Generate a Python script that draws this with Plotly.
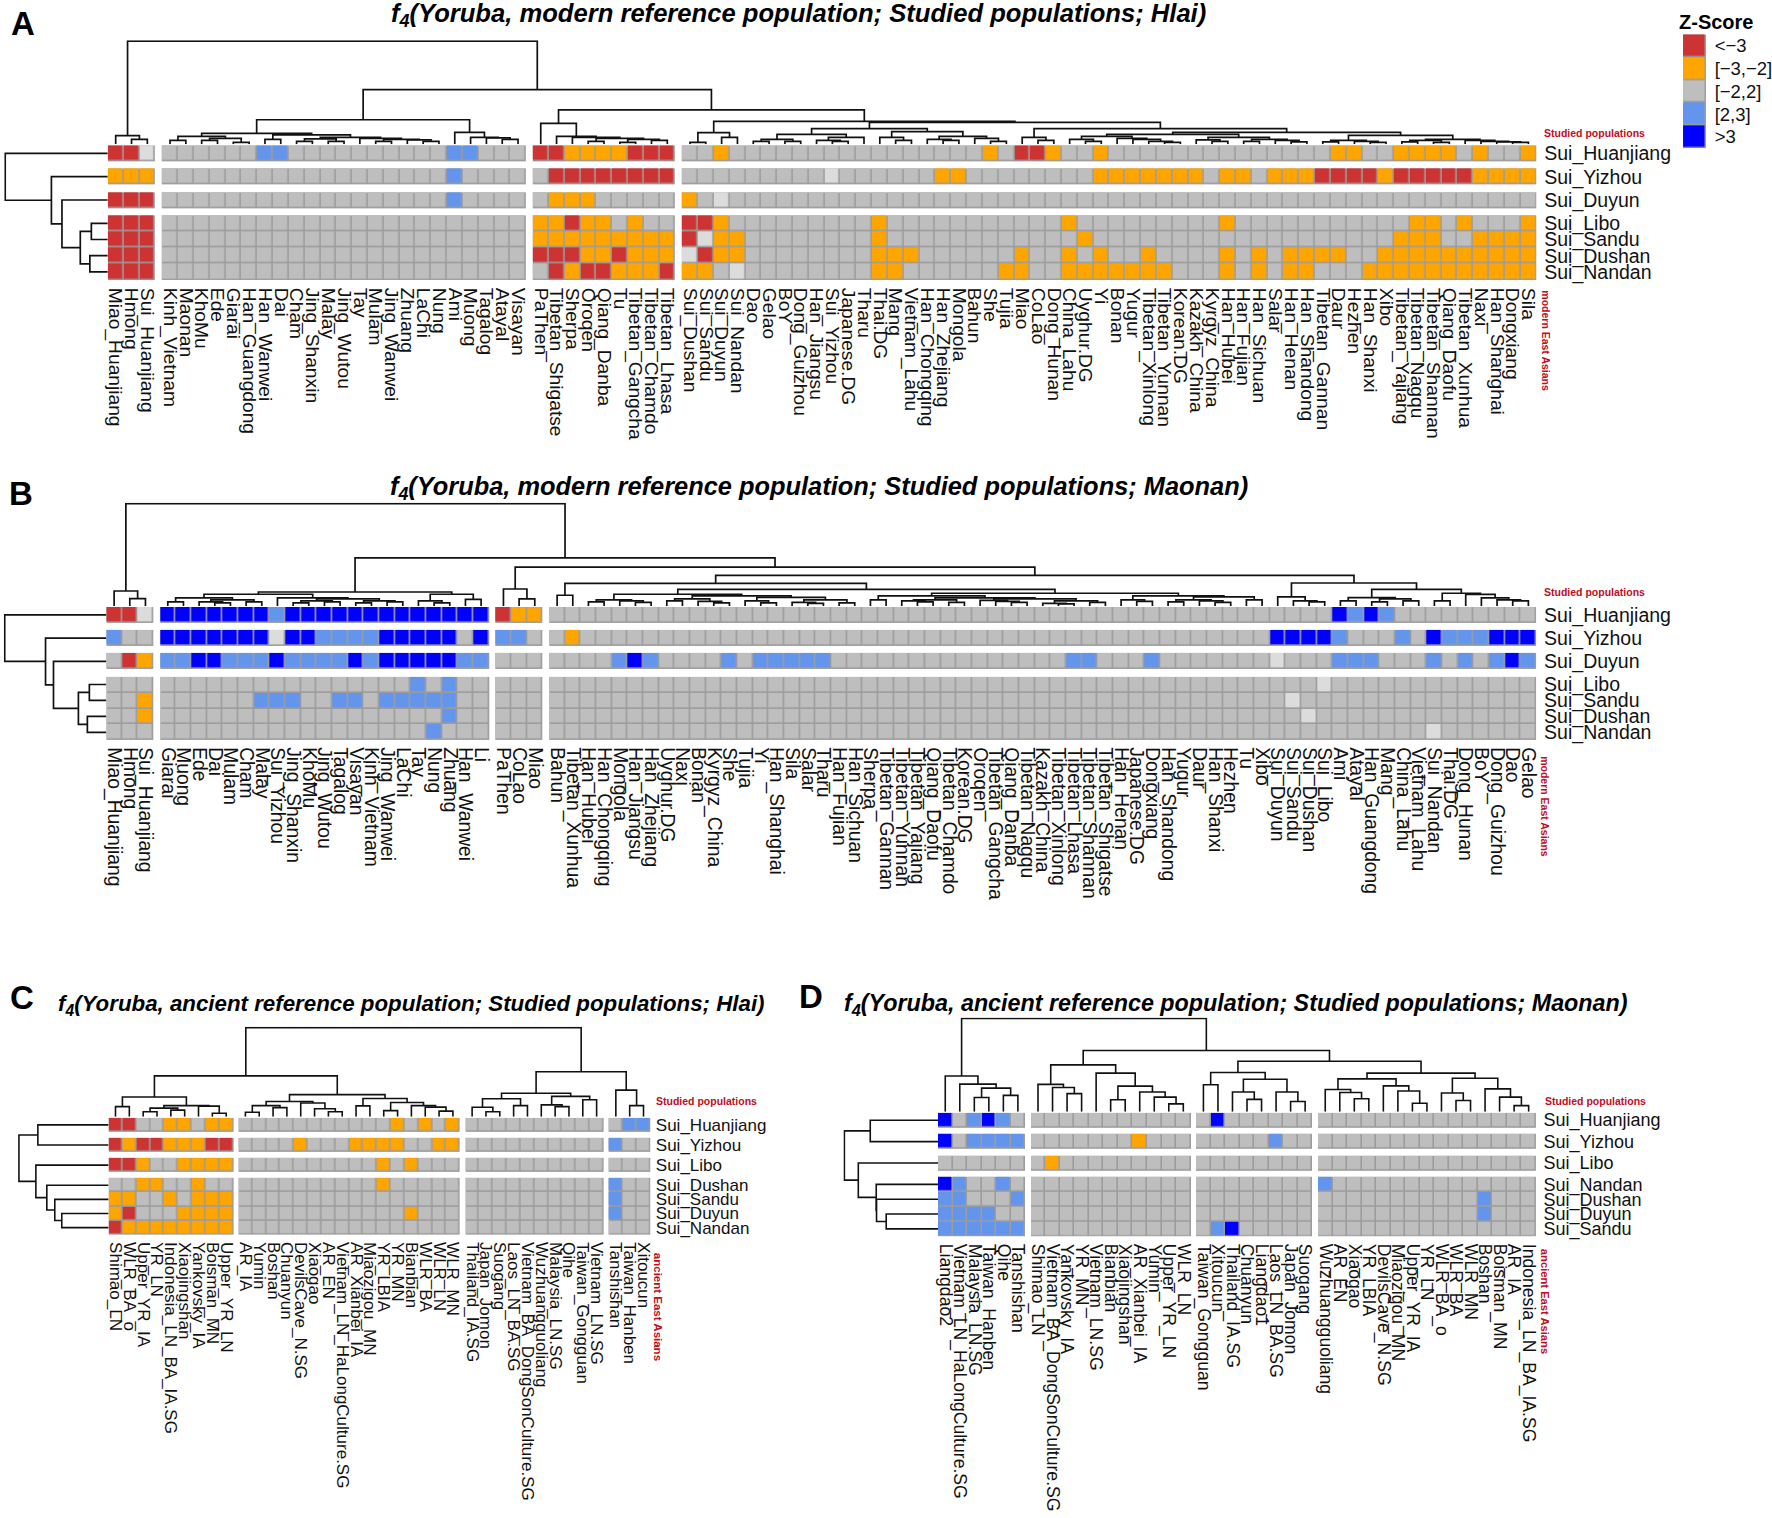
import plotly.graph_objects as go

W, H = 1772, 1518
FONT = "Liberation Sans"
RED_TXT = "#C00D1E"
BORDER = "#9C9C9C"
CODES = {"r": 0, "o": 1, "g": 2, "b": 3, "B": 4, "w": 5}
COLORS = ["#CD3333", "#FFA500", "#BEBEBE", "#6495ED", "#0000FF", "#DCDCDC"]
_ = None

# ---------- legend ----------
legend_labels = ["<−3", "[−3,−2]", "[−2,2]", "[2,3]", ">3"]
legend_codes = ["r", "o", "g", "b", "B"]

# ---------- panel A ----------
A_rows = ["Sui_Huanjiang", "Sui_Yizhou", "Sui_Duyun", "Sui_Libo", "Sui_Sandu", "Sui_Dushan", "Sui_Nandan"]
A_col1 = ["Miao_Huanjiang", "Hmong", "Sui_Huanjiang"]
A_col2 = ["Kinh_Vietnam", "Maonan", "KhoMu", "Ede", "Giarai", "Han_Guangdong", "Han_Wanwei", "Dai", "Cham",
          "Jing_Shanxin", "Malay", "Jing_Wutou", "Tay", "Mulam", "Jing_Wanwei", "Zhuang", "LaChi", "Nung", "Ami",
          "Muong", "Tagalog", "Atayal", "Visayan"]
A_col3 = ["PaThen", "Tibetan_Shigatse", "Sherpa", "Oroqen", "Qiang_Danba", "Tu", "Tibetan_Gangcha",
          "Tibetan_Chamdo", "Tibetan_Lhasa"]
A_col4 = ["Sui_Dushan", "Sui_Sandu", "Sui_Duyun", "Sui_Nandan", "Dao", "Gelao", "BoY", "Dong_Guizhou", "Han_Jiangsu",
          "Sui_Yizhou", "Japanese.DG", "Tharu", "Thai.DG", "Mang", "Vietnam_Lahu", "Han_Chongqing", "Han_Zhejiang",
          "Mongola", "Bahun", "She", "Tujia", "Miao", "CoLao", "Dong_Hunan", "China_Lahu", "Uyghur.DG", "Yi", "Bonan",
          "Yugur", "Tibetan_Xinlong", "Tibetan_Yunnan", "Korean.DG", "Kazakh_China", "Kyrgyz_China", "Han_Hubei",
          "Han_Fujian", "Han_Sichuan", "Salar", "Han_Henan", "Han_Shandong", "Tibetan_Gannan", "Daur", "Hezhen",
          "Han_Shanxi", "Xibo", "Tibetan_Yajiang", "Tibetan_Nagqu", "Tibetan_Shannan", "Qiang_Daofu",
          "Tibetan_Xunhua", "Naxi", "Han_Shanghai", "Dongxiang", "Sila"]
A_z1 = ["rrw", "ooo", "rrr", "rrr", "rrr", "rrr", "rrr"]
A_z2 = ["ggggggbbggggggggggbbggg", "ggggggggggggggggggbgggg", "ggggggggggggggggggbgggg",
        "g" * 23, "g" * 23, "g" * 23, "g" * 23]
A_z3 = ["rroooorrr", "grrrrrrrr", "goooggggg", "ooroogogg", "ooooooooo", "rrroorooo", "grorrooor"]
A_z4 = ["ggoggggggg" "gggggggggo" "grroggoggg" "gggggggggg" "googgoooog" "oggo",
        "gggggggggw" "ggggggoogg" "ggggggoooo" "ooogoogooo" "rrrrorrrrr" "oooo",
        "ogwggggggg" "gggggggggg" "gggggggggg" "gggggggggg" "gggggggggg" "gggg",
        "rroggggggg" "ggoggggggg" "ggggoggggg" "ggggoggggg" "ggggggoogo" "gggo",
        "rwoogggggg" "ggoggggggg" "gggggogggg" "gggggggggg" "gggggooogg" "oooo",
        "wroogggggg" "ggoooggggg" "goggogoggo" "ggggogogoo" "ooggoooooo" "oooo",
        "oogwgggggg" "ggoogggggg" "ooggoooooo" "ogggogogoo" "gggooooooo" "oooo"]
A_tree_rows = (103, _, (56.6, _, (46, _, (27.6, (16.5, _, _), (18, _, _)))))
A_t1 = (8.7, _, (5, _, _))
A_t2 = (24.7, (11, (8, (4, _, _), (6, (4, _, _), (2, _, _))),
               (9.5, (5, _, _), (7, (5.5, (3, _, _), (3, _, _)), (6, _, (5, (3, _, _), (4.5, _, (3, _, _))))))),
        (12, _, (7, _, (6.5, _, (5, _, _)))))
A_t3 = (21, _, (8, _, (7, _, (6, (3, _, _), (5, (2, _, _), (4, _, _))))))
A_t4 = (23, (11.7, (2, _, _), (7, _, _)),
        (22, (15.7, (10, (5, (3, _, _), (3, _, _)), (7, (4, _, (3, _, _)), _)),
              (12.7, (7, _, (4, _, _)), (8, (5, _, (4, _, _)), (6, _, (3, _, _))))),
         (15.7, (7, _, (4, _, _)),
          (12, (10, (8, (5, _, (3, _, _)), (6, _, (5, _, (3, _, (2, _, _))))),
                (7, (4.5, _, (3, _, _)), (5, (3, _, _), (4, _, (2.5, _, _))))),
           (9, (4, (2.5, _, _), (3, _, (2, _, _))),
            (5, (4, (2.5, _, _), (2, _, _)), (4, _, (3, _, (2.5, _, (2, _, _))))))))))
A_tree_cols = (103.7, A_t1, (55, A_t2, (34.7, A_t3, A_t4)))

# ---------- panel B ----------
B_rows = ["Sui_Huanjiang", "Sui_Yizhou", "Sui_Duyun", "Sui_Libo", "Sui_Sandu", "Sui_Dushan", "Sui_Nandan"]
B_col1 = ["Miao_Huanjiang", "Hmong", "Sui_Huanjiang"]
B_col2 = ["Giarai", "Muong", "Ede", "Dai", "Mulam", "Cham", "Malay", "Sui_Yizhou", "Jing_Shanxin", "KhoMu",
          "Jing_Wutou", "Tagalog", "Visayan", "Kinh_Vietnam", "Jing_Wanwei", "LaChi", "Tay", "Nung", "Zhuang",
          "Han_Wanwei", "Li"]
B_col3 = ["PaThen", "CoLao", "Miao"]
B_col4 = ["Bahun", "Tibetan_Xunhua", "Han_Hubei", "Han_Chongqing", "Mongola", "Han_Jiangsu", "Han_Zhejiang",
          "Uyghur.DG", "Naxi", "Bonan", "Kyrgyz_China", "She", "Tujia", "Yi", "Han_Shanghai", "Sila", "Salar", "Tharu",
          "Han_Fujian", "Han_Sichuan", "Sherpa", "Tibetan_Gannan", "Tibetan_Yunnan", "Tibetan_Yajiang", "Qiang_Daofu",
          "Tibetan_Chamdo", "Korean.DG", "Oroqen", "Tibetan_Gangcha", "Qiang_Danba", "Tibetan_Nagqu", "Kazakh_China",
          "Tibetan_Xinlong", "Tibetan_Lhasa", "Tibetan_Shannan", "Tibetan_Shigatse", "Han_Henan", "Japanese.DG",
          "Dongxiang", "Han_Shandong", "Yugur", "Daur", "Han_Shanxi", "Hezhen", "Tu", "Xibo", "Sui_Duyun", "Sui_Sandu",
          "Sui_Dushan", "Sui_Libo", "Ami", "Atayal", "Han_Guangdong", "Mang", "China_Lahu", "Vietnam_Lahu",
          "Sui_Nandan", "Thai.DG", "Dong_Hunan", "BoY", "Dong_Guizhou", "Dao", "Gelao"]
B_z1 = ["rrw", "bgg", "gro", "ggg", "ggo", "ggo", "ggg"]
B_z2 = ["BBBBBBBbBBBBBBBBBBBBB", "BBBBBBBwBBbbbbBBBBBgB", "bbBBbbbBbbbbBbBBBBBbb",
        "ggggggggggggggggbgbgg", "ggggggbbbggbbgbbbbbgg", "ggggggggggggggggggbgg", "gggggggggggggggggbggg"]
B_z3 = ["roo", "bbg", "ggg", "ggg", "ggg", "ggg", "ggg"]
B_z4 = ["g" * 50 + "BbBb" + "g" * 9,
        "go" + "g" * 44 + "BBBB" + "b" + "ggg" + "b" + "g" + "B" + "bbb" + "BBB",
        "gggg" + "bBb" + "gggg" + "b" + "g" + "bbbbb" + "g" * 15 + "bb" + "ggg" + "b" + "g" * 7 + "w" + "ggg" + "bbb"
        + "ggg" + "b" + "g" + "b" + "g" + "bBb",
        "g" * 49 + "w" + "g" * 13, "g" * 47 + "w" + "g" * 15, "g" * 48 + "w" + "g" * 14, "g" * 56 + "w" + "g" * 6]
B_tree_rows = (102, _, (61, _, (53, _, (28, (17, _, _), (19, _, _)))))
B_t1 = (15, _, (7.3, _, _))
B_t2 = (14, (11.7, (8, (4, _, _), (6, (4, _, (3, _, _)), (4, _, _))),
             (8, _, (7, (5, (3, _, _), (4, _, _)), (5, (3, _, _), (4, _, _))))),
        (11.7, (5, _, (3, _, _)), (6.5, _, _)))
B_t3 = (17, _, (7, _, _))
B_L1 = (11.7, (6, (4, _, _), (5, _, (3.5, _, _))),
        (10, (7, (5, _, _), (4.5, _, (3, _, _))),
         (8.5, (5, _, (3, _, _)), (6, (3.5, _, (2.5, _, _)), (3, _, _)))))
B_V = (8, (6, (5, _, (4, _, _)), (3.5, _, _)),
       (7, (5.5, _, (4.5, _, (3.5, _, _))), (5, (2.5, _, (2, _, _)), (3.5, _, _))))
B_L2 = (12.7, (10, (6, _, _), B_V),
        (10, (6, _, (4.5, _, _)), (9, (6, (4, _, _), (5, _, (3.5, _, _))), (6, _, _))))
B_t4 = (30.7, (22.7, (10.7, _, _), (16.7, B_L1, B_L2)),
        (23, (9, _, (5, _, (4, _, _))),
         (16.7, (8.3, (5, _, _), (7, (4, _, _), (5, _, _))),
          (12.7, (5, _, _), (11.5, _, (8, _, (6, _, (5, _, _))))))))
B_tree_cols = (102.7, B_t1, (48.3, B_t2, (39, B_t3, B_t4)))

# ---------- panel C ----------
C_rows = ["Sui_Huanjiang", "Sui_Yizhou", "Sui_Libo", "Sui_Dushan", "Sui_Sandu", "Sui_Duyun", "Sui_Nandan"]
C_col1 = ["Shimao_LN", "WLR_BA_o", "Upper_YR_IA", "YR_LN", "Indonesia_LN_BA_IA.SG", "Xiaojingshan", "Yankovsky_IA",
          "Boisman_MN", "Upper_YR_LN"]
C_col2 = ["AR_IA", "Yumin", "Boshan", "Chuanyun", "DevilsCave_N.SG", "Xiaogao", "AR_EN", "Vietnam_LN_HaLongCulture.SG",
          "AR_Xianbei_IA", "Miaozigou_MN", "YR_LBIA", "YR_MN", "Bianbian", "WLR_BA", "WLR_LN", "WLR_MN"]
C_col3 = ["Thailand_IA.SG", "Japan_Jomon", "Suogang", "Laos_LN_BA.SG", "Vietnam_BA_DongSonCulture.SG",
          "Wuzhuangguoliang", "Malaysia_LN.SG", "Qihe", "Taiwan_Gongguan", "Vietnam_LN.SG"]
C_col4 = ["Tanshishan", "Taiwan_Hanben", "Xitoucun"]
C_z1 = ["rrggoogoo", "rorrooorr", "rroggoooo", "ggooggogg", "ooggogooo", "orgggoooo", "roooooooo"]
C_z2 = ["gggggggggggogogo", "ggggoggg" + "oooogg" + "oo", "ggggggggggogoggg", "ggggggggggoggggg",
        "gggggggggggggggg", "ggggggggggggoggg", "gggggggggggggggg"]
C_z3 = ["g" * 10] * 7
C_z4 = ["gbb", "bgg", "ggg", "bgg", "bgg", "bgg", "ggg"]
C_tree_rows = (90, (71, _, _), (73, _, (62, _, (54, _, (47, _, _)))))
C_t1 = (19.9, (10.3, _, _), (11.3, (8.8, (5.1, _, _), (6.7, _, _)), (10.8, _, (3.6, _, _))))
C_t2 = (22.3, (15.4, (11.3, (4.6, _, _), (9.3, _, _)), (13.9, _, (8.2, _, (5.1, _, _)))),
        (18.5, (11, _, _), (14.4, (6.2, _, _), (11.3, _, (9.8, _, (5.7, _, _))))))
C_t3 = (23.7, (18.2, (9.6, _, (5.1, _, _)), (11.3, _, _)), (20.6, (12, _, (10.3, _, _)), (17.2, _, _)))
C_t4 = (26.8, _, (11.3, _, _))
C_tree_cols = (89.6, (41.2, C_t1, C_t2), (45.3, C_t3, C_t4))

# ---------- panel D ----------
D_rows = ["Sui_Huanjiang", "Sui_Yizhou", "Sui_Libo", "Sui_Nandan", "Sui_Dushan", "Sui_Duyun", "Sui_Sandu"]
D_col1 = ["Liangdao2", "Vietnam_LN_HaLongCulture.SG", "Malaysia_LN.SG", "Taiwan_Hanben", "Qihe", "Tanshishan"]
D_col2 = ["Shimao_LN", "Vietnam_BA_DongSonCulture.SG", "Yankovsky_IA", "YR_MN", "Vietnam_LN.SG", "Bianbian",
          "Xiaojingshan", "AR_Xianbei_IA", "Yumin", "Upper_YR_LN", "WLR_LN"]
D_col3 = ["Taiwan_Gongguan", "Xitoucun", "Thailand_IA.SG", "Chuanyun", "Liangdao1", "Laos_LN_BA.SG", "Japan_Jomon",
          "Suogang"]
D_col4 = ["Wuzhuangguoliang", "AR_EN", "Xiaogao", "YR_LBIA", "DevilsCave_N.SG", "Miaozigou_MN", "Upper_YR_IA", "YR_LN",
          "WLR_BA_o", "WLR_BA", "WLR_MN", "Boshan", "Boisman_MN", "AR_IA", "Indonesia_LN_BA_IA.SG"]
D_z1 = ["BgbBbg", "Bgbbbb", "gggggg", "Bbggbg", "bbgggb", "bbbbgg", "bbbbbb"]
D_z2 = ["ggggggggggg", "gggggggoggg", "goggggggggg", "ggggggggggg", "ggggggggggg", "ggggggggggg", "ggggggggggg"]
D_z3 = ["gBgggggg", "gggggbgg", "gggggggg", "gggggggg", "gggggggg", "gggggggg", "gbBggggg"]
D_z4 = ["g" * 15, "g" * 15, "g" * 15, "b" + "g" * 14, "g" * 11 + "bggg", "g" * 11 + "bggg", "g" * 15]
D_tree_rows = (94, (68, _, _), (80, _, (62, _, (61.7, _, (52, _, _)))))
D_t1 = (36, _, (27.8, _, (23.7, (14.4, _, _), (16.5, _, _))))
D_t2 = (47.1, (27.5, _, (24.4, _, (18.2, _, _))),
        (38.8, _, (25.8, (12, _, _), (19.9, _, (14.7, _, (7.9, _, _))))))
D_t3 = (39.4, (27.1, _, _), (32.6, (19.9, _, (12.4, _, _)), (19.9, _, (10.3, _, _))))
D_t4 = (38.8, (33, (22.3, _, (19.3, _, (13.1, _, _))), (26, _, (20.9, _, (8.5, _, _)))),
        (33.7, (18.8, _, (11.3, _, _)), (23, _, (14.7, _, (6.2, _, _)))))
D_tree_cols = (93.7, D_t1, (61.5, D_t2, (50.8, D_t3, D_t4)))

# ---------- layout geometry of each panel (page pixels) ----------
PANELS = [
    dict(cols=[A_col1, A_col2, A_col3, A_col4], z=[A_z1, A_z2, A_z3, A_z4], rows=A_rows, tc=A_tree_cols, tr=A_tree_rows,
         box=(105.2, 1539.4, 143, 278.3), gx=6.9, gy=7.1, fs=19.2, rfs=19.5, lw=1.7, xlen=3, ylen=3),
    dict(cols=[B_col1, B_col2, B_col3, B_col4], z=[B_z1, B_z2, B_z3, B_z4], rows=B_rows, tc=B_tree_cols, tr=B_tree_rows,
         box=(103.7, 1539.3, 606.7, 740.7), gx=6.7, gy=7.3, fs=19.3, rfs=19.5, lw=1.7, xlen=2, ylen=3),
    dict(cols=[C_col1, C_col2, C_col3, C_col4], z=[C_z1, C_z2, C_z3, C_z4], rows=C_rows, tc=C_tree_cols, tr=C_tree_rows,
         box=(106, 650, 1120, 1237.4), gx=5.4, gy=6.0, fs=17, rfs=17, lw=1.6, xlen=3, ylen=1),
    dict(cols=[D_col1, D_col2, D_col3, D_col4], z=[D_z1, D_z2, D_z3, D_z4], rows=D_rows, tc=D_tree_cols, tr=D_tree_rows,
         box=(938.7, 1539, 1114.9, 1239), gx=5.6, gy=6.6, fs=17.6, rfs=18, lw=1.6, xlen=3, ylen=3),
]
ROW_SPLIT = [1, 1, 1, 4]

fig = go.Figure()
layout = {}
colorscale = []
for i, c in enumerate(COLORS):
    colorscale += [[i / 6, c], [(i + 1) / 6, c]]
border_scale = [[0, BORDER], [1, BORDER]]


def dom_x(a, b):
    return [max(0, a / W), min(1, b / W)]


def dom_y(top, bottom):
    return [max(0, 1 - bottom / H), min(1, 1 - top / H)]


def edges(sizes, gap):
    e, centers, pos = [0.0], [], 0.0
    for k, n in enumerate(sizes):
        for _i in range(n):
            centers.append(pos + 0.5)
            pos += 1
            e.append(pos)
        if k < len(sizes) - 1:
            pos += gap
            e.append(pos)
    return e, centers, pos


def walk(node, leaves, it, segs):
    if node is None:
        return leaves[next(it)], 0.0
    h, a, b = node
    pa, ha = walk(a, leaves, it, segs)
    pb, hb = walk(b, leaves, it, segs)
    segs.append(((pa, ha), (pa, h), (pb, h), (pb, hb)))
    return (pa + pb) / 2, h


def seg_xy(segs):
    p, q = [], []
    for s in segs:
        for u, v in s:
            p.append(u)
            q.append(v)
        p.append(None)
        q.append(None)
    return p, q


axis_id = 0


def new_axes():
    global axis_id
    axis_id += 1
    return axis_id


PLAIN = dict(showgrid=False, zeroline=False, showline=False, ticks="", showticklabels=False, fixedrange=True)

for P in PANELS:
    L, R, T, B = P["box"]
    sizes = [len(c) for c in P["cols"]]
    ncol, nrow = sum(sizes), len(P["rows"])
    cw = (R - L - 3 * P["gx"]) / ncol
    ch = (B - T - 3 * P["gy"]) / nrow
    xe, xc, xmax = edges(sizes, P["gx"] / cw)
    ye, yc, ymax = edges(ROW_SPLIT, P["gy"] / ch)

    rows_z = []
    row_idx = 0
    for rg, n in enumerate(ROW_SPLIT):
        for _r in range(n):
            line = []
            for g, block in enumerate(P["z"]):
                s = block[row_idx]
                assert len(s) == sizes[g], (P["rows"][0], row_idx, g, len(s), sizes[g])
                line += [CODES[ch_] for ch_ in s]
                if g < 3:
                    line.append(None)
            rows_z.append(line)
            row_idx += 1
        if rg < 3:
            rows_z.append([None] * len(rows_z[0]))
    bg = [[None if v is None else 0 for v in r] for r in rows_z]

    hx = new_axes()      # heat x axis
    hy = new_axes()      # heat y axis
    ty = new_axes()      # height axis of the column tree
    lx = new_axes()      # height axis of the row tree

    fig.add_trace(go.Heatmap(x=xe, y=ye, z=bg, colorscale=border_scale, zmin=0, zmax=1, showscale=False,
                             hoverinfo="skip", xaxis=f"x{hx}", yaxis=f"y{hy}"))
    fig.add_trace(go.Heatmap(x=xe, y=ye, z=rows_z, colorscale=colorscale, zmin=-0.5, zmax=5.5, showscale=False,
                             xgap=1.6, ygap=1.6, hoverinfo="skip", xaxis=f"x{hx}", yaxis=f"y{hy}"))

    labels = [t for c in P["cols"] for t in c]
    layout[f"xaxis{hx}"] = dict(PLAIN, domain=dom_x(L, R), range=[0, xmax], anchor=f"y{hy}", side="bottom",
                                tickmode="array", tickvals=xc, ticktext=labels, tickangle=90, showticklabels=True,
                                ticks="outside", ticklen=P["xlen"], tickcolor="rgba(0,0,0,0)",
                                tickfont=dict(family=FONT, size=P["fs"], color="#111"))
    layout[f"yaxis{hy}"] = dict(PLAIN, domain=dom_y(T, B), range=[ymax, 0], anchor=f"x{hx}", side="right",
                                tickmode="array", tickvals=yc, ticktext=P["rows"], showticklabels=True,
                                ticks="outside", ticklen=P["ylen"], tickcolor="rgba(0,0,0,0)",
                                tickfont=dict(family=FONT, size=P["rfs"], color="#111"))

    # column tree
    segs = []
    walk(P["tc"], xc, iter(range(ncol)), segs)
    sx, sy = seg_xy(segs)
    hmax = P["tc"][0] + 1
    fig.add_trace(go.Scatter(x=sx, y=sy, mode="lines", line=dict(color="#111", width=P["lw"]), hoverinfo="skip",
                             showlegend=False, xaxis=f"x{hx}", yaxis=f"y{ty}", cliponaxis=False))
    layout[f"yaxis{ty}"] = dict(PLAIN, domain=dom_y(T - 1 - hmax, T - 1), range=[0, hmax], anchor=f"x{hx}")

    # row tree
    segs = []
    walk(P["tr"], yc, iter(range(nrow)), segs)
    sy, sx = seg_xy(segs)
    hmax = P["tr"][0] + 1
    fig.add_trace(go.Scatter(x=sx, y=sy, mode="lines", line=dict(color="#111", width=P["lw"]), hoverinfo="skip",
                             showlegend=False, xaxis=f"x{lx}", yaxis=f"y{hy}", cliponaxis=False))
    layout[f"xaxis{lx}"] = dict(PLAIN, domain=dom_x(L - hmax, L), range=[hmax, 0], anchor=f"y{hy}")

# legend as a small heatmap
lgx = new_axes()
lgy = new_axes()
lg_z = [[CODES[c]] for c in legend_codes]
lg_bg = [[0] for _c in legend_codes]
fig.add_trace(go.Heatmap(z=lg_bg, colorscale=border_scale, zmin=0, zmax=1, showscale=False, hoverinfo="skip",
                         xaxis=f"x{lgx}", yaxis=f"y{lgy}"))
fig.add_trace(go.Heatmap(z=lg_z, colorscale=colorscale, zmin=-0.5, zmax=5.5, showscale=False, xgap=1.5, ygap=1.5,
                         hoverinfo="skip", xaxis=f"x{lgx}", yaxis=f"y{lgy}"))
layout[f"xaxis{lgx}"] = dict(PLAIN, domain=dom_x(1686.7, 1709.7), range=[-0.5, 0.5], anchor=f"y{lgy}")
layout[f"yaxis{lgy}"] = dict(PLAIN, domain=dom_y(31.5, 146), range=[4.5, -0.5], anchor=f"x{lgx}", side="right",
                             tickmode="array", tickvals=list(range(5)), ticktext=legend_labels, showticklabels=True,
                             ticks="outside", ticklen=4, tickcolor="rgba(0,0,0,0)",
                             tickfont=dict(family=FONT, size=18.5, color="#111"))

# titles and side notes
ann = []


def note(text, x, y, size, xanchor="left", yanchor="middle", color="#000", angle=0):
    ann.append(dict(text=text, x=x / W, y=1 - y / H, xref="paper", yref="paper", xanchor=xanchor, yanchor=yanchor,
                    showarrow=False, textangle=angle, font=dict(family=FONT, size=size, color=color)))


for txt, x, y, s in [("A", 6, 21, 33), ("B", 4.5, 493, 33), ("C", 5.5, 999, 33), ("D", 797.5, 998, 33)]:
    note(f"<b>{txt}</b>", x, y, s)
for txt, x, y, s in [
    ("modern reference population; Studied populations; Hlai)", 387.5, 12, 25.6),
    ("modern reference population; Studied populations; Maonan)", 386.5, 487, 25.4),
    ("ancient reference population; Studied populations; Hlai)", 53.5, 1006.5, 22.3),
    ("ancient reference population; Studied populations; Maonan)", 842, 1006.5, 23.3),
]:
    note(f"<b><i>f<sub>4</sub>(Yoruba, {txt}</i></b>", x, y, s)
for x, y in [(1545, 131), (1545, 592), (654, 1103.5), (1546, 1103.5)]:
    note("<b>Studied populations</b>", x, y, 10.5, color=RED_TXT)
for txt, x, y, s in [("modern East Asians", 1549, 287, 10.5), ("modern East Asians", 1548, 755, 10.5),
                     ("ancient East Asians", 657, 1254, 11.5), ("ancient East Asians", 1548, 1250, 11.2)]:
    note(f"<b>{txt}</b>", x, y, s, xanchor="center", yanchor="top", color=RED_TXT, angle=90)
note("<b>Z-Score</b>", 1681, 19, 20)

fig.update_layout(width=W, height=H, margin=dict(l=0, r=0, t=0, b=0), paper_bgcolor="white", plot_bgcolor="white",
                  showlegend=False, annotations=ann, **layout)
fig.write_html("out.html", config={"displayModeBar": False},
               post_script="document.body.style.margin='0';document.body.style.overflow='hidden';")
